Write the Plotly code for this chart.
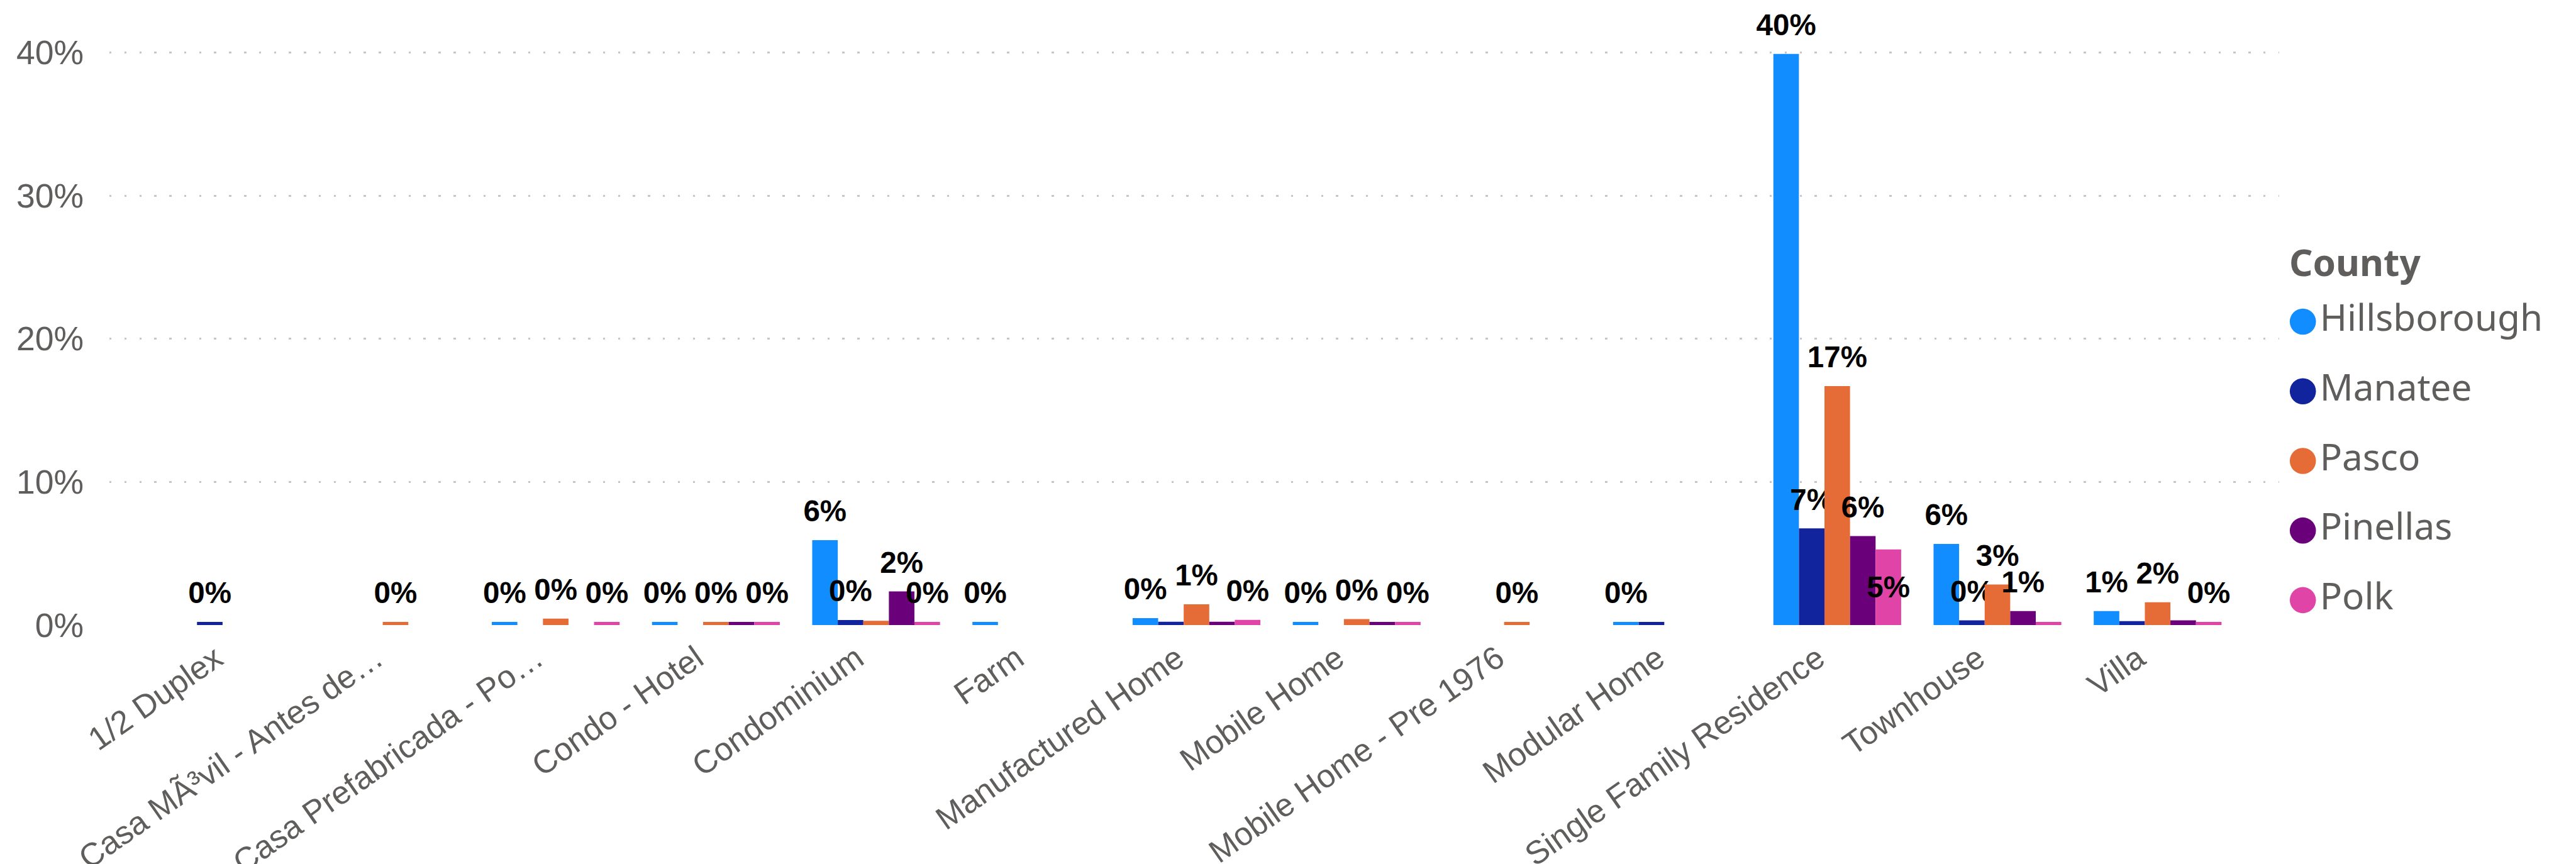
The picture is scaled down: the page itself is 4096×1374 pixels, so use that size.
import plotly.graph_objects as go

# ---------------- data ----------------
categories = [
    "1/2 Duplex", "Casa MÃ³vil - Antes de…", "Casa Prefabricada - Po…", "Condo - Hotel",
    "Condominium", "Farm", "Manufactured Home", "Mobile Home", "Mobile Home - Pre 1976",
    "Modular Home", "Single Family Residence", "Townhouse", "Villa",
]
series_names = ["Hillsborough", "Manatee", "Pasco", "Pinellas", "Polk"]
series_colors = ["#118DFF", "#12239E", "#E66C37", "#6B007B", "#E044A7"]

# share of listings, percent (None = no bar)
hillsborough = [None, None, 0.22, 0.22, 5.93, 0.22, 0.48, 0.22, None, 0.22, 39.9, 5.67, 0.98]
manatee      = [0.22, None, None, None, 0.35, None, 0.23, None, None, 0.22, 6.75, 0.33, 0.27]
pasco        = [None, 0.22, 0.45, 0.22, 0.30, None, 1.45, 0.42, 0.22, None, 16.7, 2.83, 1.59]
pinellas     = [None, None, None, 0.22, 2.35, None, 0.23, 0.22, None, None, 6.22, 0.98, 0.33]
polk         = [None, None, 0.22, 0.22, 0.22, None, 0.36, 0.22, None, None, 5.28, 0.22, 0.22]

# which data labels are displayed (1 = above the bar, 2 = inside the bar, 0 = hidden)
hillsborough_lbl = [0, 0, 1, 1, 1, 1, 1, 1, 0, 1, 1, 1, 1]
manatee_lbl      = [1, 0, 0, 0, 1, 0, 0, 0, 0, 0, 1, 1, 0]
pasco_lbl        = [0, 1, 1, 1, 0, 0, 1, 1, 1, 0, 1, 1, 1]
pinellas_lbl     = [0, 0, 0, 0, 1, 0, 0, 0, 0, 0, 1, 1, 0]
polk_lbl         = [0, 0, 1, 1, 1, 0, 1, 1, 0, 0, 2, 0, 1]

y_ticks = [0, 10, 20, 30, 40]

series_values = [hillsborough, manatee, pasco, pinellas, polk]
series_labels = [hillsborough_lbl, manatee_lbl, pasco_lbl, pinellas_lbl, polk_lbl]

# ---------------- geometry ----------------
# reference px are scaled by S; the page body has an 8px default margin, so the
# figure is drawn 8px smaller and every window position is shifted by OFF.
S = 0.991
OFF = 8
WIN_W, WIN_H = 4096, 1374
W, H = WIN_W - OFF, WIN_H - OFF

def fx(ref_x):
    return ref_x * S - OFF

def fy(ref_y):
    return ref_y * S - OFF

REF_PER_UNIT = (1003 - 84) / 40.0          # reference px per 1 %
plot_left = fx(176)
main_right = fx(3657)
y0_px = fy(1003)
y_max = 42
top_px = y0_px - REF_PER_UNIT * S * y_max
area_w = W - plot_left
x_dom_end = (main_right - plot_left) / area_w
area_h = y0_px - top_px

c0, cstep = 378.0, 257.0
x_range = [(176 - c0) / cstep, (3657 - c0) / cstep]
bar_w = 41.0 / cstep
label_gap = 17.0 / REF_PER_UNIT

FONT = "Liberation Sans, Arial, sans-serif"
LEG_FONT = "Noto Sans, Open Sans, sans-serif"
GREY = "#605E5C"
LABEL_SIZE = 48 * S

fig = go.Figure()

for name, color, vals, lbls in zip(series_names, series_colors, series_values, series_labels):
    inside_text = [f"{round(v):.0f}%" if (l == 2 and v is not None) else "" for v, l in zip(vals, lbls)]
    fig.add_trace(go.Bar(
        x=categories, y=vals, name=name, offsetgroup=name,
        marker=dict(color=color, line=dict(width=0)),
        text=inside_text, textposition="inside", insidetextanchor="middle",
        textangle=0, constraintext="none",
        insidetextfont=dict(family=FONT, size=LABEL_SIZE, color="black", weight="bold"),
        showlegend=False, cliponaxis=False,
    ))
    out_text = [f"{round(v):.0f}%" if (l == 1 and v is not None) else "" for v, l in zip(vals, lbls)]
    base_vals = [v if v is not None else 0 for v in vals]
    fig.add_trace(go.Bar(
        x=categories, y=[label_gap] * len(categories), base=base_vals, offsetgroup=name,
        marker=dict(color="rgba(0,0,0,0)", line=dict(width=0)),
        text=out_text, textposition="outside", textangle=0, constraintext="none",
        outsidetextfont=dict(family=FONT, size=LABEL_SIZE, color="black", weight="bold"),
        showlegend=False, hoverinfo="skip", cliponaxis=False,
    ))

# ---- custom legend with large circular markers ----
leg_x = fx(3695) - main_right
P0 = fy(516)
d = 111.75 * S
ya = (y0_px - P0) / d
yb = ya - area_h / d
fig.add_trace(go.Scatter(
    x=[leg_x] * len(series_names), y=list(range(len(series_names))),
    xaxis="x2", yaxis="y2", mode="markers+text",
    marker=dict(size=42 * S, color=series_colors, symbol="circle", line=dict(width=0)),
    text=series_names, textposition="middle right",
    textfont=dict(family=LEG_FONT, size=59 * S, color=GREY),
    showlegend=False, hoverinfo="skip", cliponaxis=False,
))

fig.add_annotation(
    x=fx(3670.7) - main_right, y=(420 - 516) / 111.75, xref="x2", yref="y2",
    text="<b>County</b>", showarrow=False, xanchor="left", yanchor="middle",
    font=dict(family=LEG_FONT, size=59 * S, color=GREY),
)

fig.update_layout(
    width=W, height=H,
    margin=dict(l=plot_left, r=0, t=top_px, b=H - y0_px, pad=0, autoexpand=False),
    paper_bgcolor="white", plot_bgcolor="white",
    barmode="group", bargap=1 - 5 * bar_w, bargroupgap=0,
    xaxis=dict(
        domain=[0, x_dom_end], range=x_range, type="category",
        categoryorder="array", categoryarray=categories,
        showgrid=False, zeroline=False, showline=False, ticks="",
        tickangle=-35, tickfont=dict(family=FONT, size=52 * S, color=GREY),
        ticklabelshift=-31, ticklabelstandoff=12,
        automargin=False, fixedrange=True,
    ),
    yaxis=dict(
        range=[0, y_max], tickvals=y_ticks, ticktext=[f"{t}%" for t in y_ticks],
        showgrid=True, gridcolor="#C8C6C4", gridwidth=3.5 * S,
        griddash=f"{3.5 * S}px,{20.5 * S}px",
        zeroline=False, showline=False, ticks="",
        tickfont=dict(family=FONT, size=54 * S, color=GREY),
        ticklabelstandoff=40, automargin=False, fixedrange=True,
    ),
    xaxis2=dict(domain=[x_dom_end, 1], range=[0, (1 - x_dom_end) * area_w], anchor="y2",
                visible=False, fixedrange=True),
    yaxis2=dict(domain=[0, 1], range=[ya, yb], anchor="x2", visible=False, fixedrange=True),
)

fig.write_html("out.html")
